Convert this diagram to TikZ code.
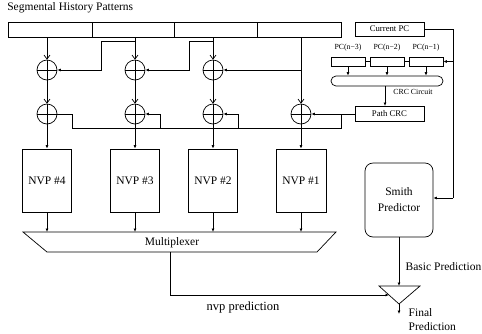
\documentclass[tikz,border=0pt]{standalone}
\usepackage{fontspec}
\setmainfont{Liberation Serif}
\usetikzlibrary{arrows.meta}
\begin{document}
\begin{tikzpicture}[x=1pt,y=-1pt,line width=0.7pt,
  box/.style={draw,inner sep=0pt},
  big/.style={font=\fontsize{11.5}{13}\selectfont},
  mid/.style={font=\fontsize{8.7}{10}\selectfont},
  small/.style={font=\fontsize{7.8}{9}\selectfont},
  xor/.style={circle,draw,minimum size=20pt,inner sep=0pt,
    path picture={\draw (path picture bounding box.north) -- (path picture bounding box.south)
      (path picture bounding box.west) -- (path picture bounding box.east);}},
  fa/.style={-{Latex[length=3.5pt,width=3pt]}},
  va/.style={-{Straight Barb[length=4pt,width=6pt]}}]
\useasboundingbox (0,0) rectangle (482,333);

% title and history bar
\node[big,anchor=west,inner sep=0pt] (title) at (7,8) {Segmental History Patterns};
\node[box,minimum width=84pt,minimum height=15pt] (s1) at (50,29.5) {};
\node[box,minimum width=82pt,minimum height=15pt] (s2) at (133,29.5) {};
\node[box,minimum width=83pt,minimum height=15pt] (s3) at (215.5,29.5) {};
\node[box,minimum width=84pt,minimum height=15pt] (s4) at (299,29.5) {};

% xor circles
\node[xor] (a4) at (47,70) {};
\node[xor] (a3) at (135,70) {};
\node[xor] (a2) at (213,70) {};
\node[xor] (b4) at (47,114) {};
\node[xor] (b3) at (135,114) {};
\node[xor] (b2) at (213,114) {};
\node[xor] (b1) at (301,114) {};

% NVP boxes
\node[box,big,minimum width=49pt,minimum height=63pt] (n4) at (47,180.5) {NVP \#4};
\node[box,big,minimum width=49pt,minimum height=63pt] (n3) at (135,180.5) {NVP \#3};
\node[box,big,minimum width=49pt,minimum height=63pt] (n2) at (213,180.5) {NVP \#2};
\node[box,big,minimum width=50pt,minimum height=63pt] (n1) at (301,180.5) {NVP \#1};

% multiplexer
\draw (23,232) coordinate (muxtl) -- (336,232) -- (317,252) -- (47,252) coordinate (muxbl) -- cycle;
\node[big] (mux) at (172,242.5) {Multiplexer};

% right side
\node[box,mid,minimum width=69pt,minimum height=14pt] (cpc) at (389.5,29) {Current PC};
\node[box,minimum width=34pt,minimum height=9pt] (p3) at (348,61.5) {};
\node[box,minimum width=34pt,minimum height=9pt] (p2) at (387,61.5) {};
\node[box,minimum width=34pt,minimum height=9pt] (p1) at (426,61.5) {};
\node[small] (l3) at (348,48) {PC(n−3)};
\node[small] (l2) at (387,48) {PC(n−2)};
\node[small] (l1) at (426,48) {PC(n−1)};
\node[box,rounded corners=5pt,minimum width=112pt,minimum height=10pt] (crc) at (387,81) {};
\node[small] (crcl) at (413,92) {CRC Circuit};
\node[box,mid,minimum width=69pt,minimum height=15pt] (pcrc) at (389.5,113.5) {Path CRC};
\node[box,big,rounded corners=8pt,minimum width=68pt,minimum height=74pt,align=center] (smith) at (399,200) {Smith\\[3pt]Predictor};

% final combiner
\draw (379,286) coordinate (tl) -- (420,286) coordinate (tr) -- (399,304) coordinate (tb) -- cycle;
\coordinate (tin) at (389,295);
\coordinate (tout) at (399,314);
\node[big,anchor=west] (basic) at (402,267) {Basic Prediction};
\node[big,anchor=west] (final) at (405,313) {Final};
\node[big,anchor=west] (finalp) at (405,327) {Prediction};
\node[font=\fontsize{12.5}{14}\selectfont] (nvpl) at (243,307) {nvp prediction};

% column connections
\draw[va] (a4 |- s1.south) -- (a4.north);
\draw[va] (a3 |- s2.south) -- (a3.north);
\draw[va] (a2 |- s3.south) -- (a2.north);
\draw[va] (b1 |- s4.south) -- (b1.north);
\draw[va] (a4.south) -- (b4.north);
\draw[va] (a3.south) -- (b3.north);
\draw[va] (a2.south) -- (b2.north);
\draw[fa] (b4.south) -- (n4.north);
\draw[fa] (b3.south) -- (n3.north);
\draw[fa] (b2.south) -- (n2.north);
\draw[fa] (b1.south) -- (n1.north);

% cross links row 1
\draw[fa] (135,41) -- (101,41) -- (101,70) -- (a4.east);
\draw[fa] (213,41) -- (189,41) -- (189,70) -- (a3.east);
\draw[fa] (301,70) -- (a2.east);

% path CRC bus row 2
\draw[fa] (pcrc.west |- b1) -- (b1.east);
\draw (341,114) -- (341,128) -- (72,128) -- (72,114) -- (b4.east);
\draw[fa] (160,128) -- (160,114) -- (b3.east);
\draw[fa] (238,128) -- (238,114) -- (b2.east);

% NVP to mux
\draw[fa] (n4.south) -- (n4.south |- muxtl);
\draw[fa] (n3.south) -- (n3.south |- muxtl);
\draw[fa] (n2.south) -- (n2.south |- muxtl);
\draw[fa] (n1.south) -- (n1.south |- muxtl);

% mux to combiner
\draw[fa] (170,252) -- (170,295) -- (tin);

% PC chain
\draw (p3.east) -- (p2.west);
\draw (p2.east) -- (p1.west);
\draw[fa] (p3.south) -- (p3.south |- crc.north);
\draw[fa] (p2.south) -- (p2.south |- crc.north);
\draw[fa] (p1.south) -- (p1.south |- crc.north);
\draw[fa] (385,86) -- (385,106);
\draw (cpc.east) -- (453,29) -- (453,198);
\draw[fa] (453,198) -- (smith.east |- 0,198);
\draw[fa] (453,61.5) -- (p1.east);

% smith to combiner
\draw[fa] (smith.south) -- (smith.south |- tl);
\draw[fa] (tb) -- (tout);
\end{tikzpicture}
\end{document}
